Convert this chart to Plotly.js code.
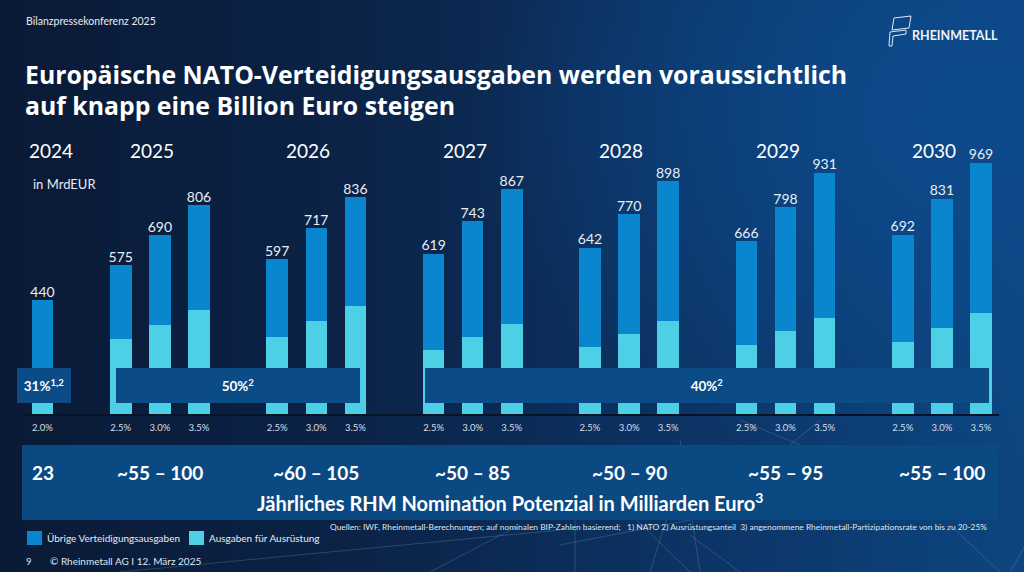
<!DOCTYPE html>
<html>
<head>
<meta charset="utf-8">
<script src="https://cdn.plot.ly/plotly-3.0.1.min.js"></script>
<style>
  html, body { margin: 0; padding: 0; width: 1024px; height: 572px; overflow: hidden; }
  body {
    background: radial-gradient(ellipse 70% 90% at 95% 20%, #0d4a8c 0%, rgba(13,74,140,0) 70%),
                linear-gradient(90deg, #0a1a36 0%, #0b2347 35%, #0c3567 70%, #0d4580 100%);
  }
  #chart { width: 1024px; height: 572px; }
</style>
</head>
<body>
<div id="chart"></div>
<script>
// ---------- data ----------
const years = ['2024', '2025', '2026', '2027', '2028', '2029', '2030'];
const rates = [
  ['2.0%'],
  ['2.5%', '3.0%', '3.5%'],
  ['2.5%', '3.0%', '3.5%'],
  ['2.5%', '3.0%', '3.5%'],
  ['2.5%', '3.0%', '3.5%'],
  ['2.5%', '3.0%', '3.5%'],
  ['2.5%', '3.0%', '3.5%']
];
const totals = [
  [440],
  [575, 690, 806],
  [597, 717, 836],
  [619, 743, 867],
  [642, 770, 898],
  [666, 798, 931],
  [692, 831, 969]
];
const equipment = [
  [136],
  [288, 345, 403],
  [299, 359, 418],
  [248, 297, 347],
  [257, 308, 359],
  [266, 319, 372],
  [277, 332, 388]
];
const otherSpending = [
  [304],
  [287, 345, 403],
  [298, 358, 418],
  [371, 446, 520],
  [385, 462, 539],
  [400, 479, 559],
  [415, 499, 581]
];
const shareLabels = ['31%<sup>1,2</sup>', '50%<sup>2</sup>', '40%<sup>2</sup>'];
const potential = ['23', '~55 – 100', '~60 – 105', '~50 – 85', '~50 – 90', '~55 – 95', '~55 – 100'];
const seriesNames = ['Übrige Verteidigungsausgaben', 'Ausgaben für Ausrüstung'];

// ---------- layout helpers ----------
const W = 1024, H = 572, ML = 23, MR = 25, MT = 140, MB = 158;
const PW = W - ML - MR, PH = H - MT - MB;
const px = x => (x - ML) / PW;
const py = y => (H - MB - y) / PH;
const FONT = 'Lato, "Open Sans", sans-serif';
const TFONT = '"Open Sans", Lato, sans-serif';
const C_DARK = '#0a86cf', C_LIGHT = '#4dcfe6', C_BOX = '#0b4c86';

// slot positions: 2024 alone, then groups of 3 separated by a gap slot
function slotOf(g, j) { return g === 0 ? 0 : 4 * (g - 1) + 2 + j; }
const xs = [], eq = [], ot = [], tot = [], tickText = [];
years.forEach((y, g) => {
  rates[g].forEach((r, j) => {
    xs.push(slotOf(g, j));
    eq.push(equipment[g][j]);
    ot.push(otherSpending[g][j]);
    tot.push(totals[g][j]);
    tickText.push(rates[g][j]);
  });
});
const mid = g => g === 0 ? 0 : slotOf(g, 1);

const traces = [
  { type: 'bar', x: xs, y: eq, name: seriesNames[1], marker: { color: C_LIGHT }, width: 0.55, hoverinfo: 'skip', showlegend: false },
  { type: 'bar', x: xs, y: ot, name: seriesNames[0], marker: { color: C_DARK }, width: 0.55, hoverinfo: 'skip', showlegend: false },
  { type: 'scatter', mode: 'text', x: xs, y: tot, text: tot.map(String), textposition: 'top center',
    textfont: { family: FONT, size: 14, color: '#e8eef5' }, showlegend: false, hoverinfo: 'skip', cliponaxis: false }
];

const annotations = [];
const shapes = [];

// faint decorative network lines
const netLines = [
  [[560, 445], [690, 572]], [[680, 440], [700, 572]], [[690, 445], [650, 572]], [[740, 420], [800, 445]],
  [[820, 420], [790, 445]], [[690, 520], [560, 545]], [[950, 525], [1000, 572]], [[575, 520], [575, 572]],
  [[430, 572], [520, 525]], [[1040, 520], [1010, 572]], [[690, 535], [740, 572]], [[120, 572], [560, 530]]
];
netLines.forEach(l => shapes.push({ type: 'line', xref: 'paper', yref: 'paper',
  x0: px(l[0][0]), y0: py(l[0][1]), x1: px(l[1][0]), y1: py(l[1][1]),
  line: { color: 'rgba(160,190,225,0.22)', width: 1 }, layer: 'below' }));

// header
annotations.push({ xref: 'paper', yref: 'paper', x: px(24), y: py(21), xanchor: 'left', yanchor: 'middle',
  text: 'Bilanzpressekonferenz 2025', showarrow: false, font: { family: FONT, size: 10.5, color: '#e6ecf3' } });
annotations.push({ xref: 'paper', yref: 'paper', x: px(23), y: py(74), xanchor: 'left', yanchor: 'middle',
  text: '<b>Europäische NATO-Verteidigungsausgaben werden voraussichtlich</b>', showarrow: false,
  font: { family: TFONT, size: 24.8, color: '#ffffff' } });
annotations.push({ xref: 'paper', yref: 'paper', x: px(23), y: py(105), xanchor: 'left', yanchor: 'middle',
  text: '<b>auf knapp eine Billion Euro steigen</b>', showarrow: false,
  font: { family: TFONT, size: 24.8, color: '#ffffff' } });
// logo
annotations.push({ xref: 'paper', yref: 'paper', x: px(910), y: py(35), xanchor: 'left', yanchor: 'middle',
  text: '<b>RHEINMETALL</b>', showarrow: false, font: { family: FONT, size: 12.5, color: '#eef3f8' } });
function pPath(pts) {
  return pts.map((p, i) => (i ? 'L ' : 'M ') + px(p[0]).toFixed(5) + ' ' + py(p[1]).toFixed(5)).join(' ') + ' Z';
}
shapes.push({ type: 'path', xref: 'paper', yref: 'paper', path: pPath([[892, 30], [894, 18], [911, 16], [909, 28]]),
  line: { color: '#dfe8f2', width: 1 } });
shapes.push({ type: 'path', xref: 'paper', yref: 'paper', path: pPath([[889, 46], [890, 32], [906, 30], [906, 34], [893, 36], [892, 46]]),
  line: { color: '#dfe8f2', width: 1 } });

// unit label
annotations.push({ xref: 'paper', yref: 'paper', x: px(31), y: py(184), xanchor: 'left', yanchor: 'middle',
  text: 'in MrdEUR', showarrow: false, font: { family: FONT, size: 13, color: '#e6ecf3' } });

// year labels
years.forEach((y, g) => {
  annotations.push({ xref: 'x', yref: 'paper', x: mid(g) + (g === 0 ? 0.22 : -0.2), y: py(150), yanchor: 'middle',
    text: y, showarrow: false, font: { family: FONT, size: 19, color: '#ffffff' } });
});

// share boxes (equipment share)
const boxSpecs = [
  { x: 0.04, w: 54, label: shareLabels[0] },
  { x: (slotOf(1, 0) + slotOf(2, 2)) / 2, w: 244, label: shareLabels[1] },
  { x: (slotOf(3, 0) + slotOf(6, 2)) / 2, w: 564, label: shareLabels[2] }
];
boxSpecs.forEach(b => {
  annotations.push({ xref: 'x', yref: 'paper', x: b.x, y: py(385.5), yanchor: 'middle', xanchor: 'center',
    width: b.w, height: 35, bgcolor: C_BOX, borderpad: 0, borderwidth: 0,
    text: '<b>' + b.label + '</b>', showarrow: false, font: { family: FONT, size: 13.5, color: '#ffffff' } });
});

// potential band
shapes.push({ type: 'rect', xref: 'paper', yref: 'paper', x0: px(22), x1: px(998), y0: py(520), y1: py(445),
  fillcolor: '#0b4983', line: { width: 0 }, layer: 'below' });
potential.forEach((t, g) => {
  annotations.push({ xref: 'x', yref: 'paper', x: mid(g), y: py(472), yanchor: 'middle',
    text: '<b>' + t + '</b>', showarrow: false, font: { family: FONT, size: 19, color: '#ffffff' } });
});
annotations.push({ xref: 'paper', yref: 'paper', x: px(510), y: py(502), xanchor: 'center', yanchor: 'middle',
  text: '<b>Jährliches RHM Nomination Potenzial in Milliarden Euro<sup>3</sup></b>', showarrow: false,
  font: { family: FONT, size: 20, color: '#ffffff' } });

// legend (drawn manually to match swatch size)
const legendItems = [
  { name: seriesNames[0], color: C_DARK, x: 27 },
  { name: seriesNames[1], color: C_LIGHT, x: 189 }
];
legendItems.forEach(it => {
  shapes.push({ type: 'rect', xref: 'paper', yref: 'paper', x0: px(it.x), x1: px(it.x + 15), y0: py(545), y1: py(531),
    fillcolor: it.color, line: { width: 0 } });
  annotations.push({ xref: 'paper', yref: 'paper', x: px(it.x + 18), y: py(538), xanchor: 'left', yanchor: 'middle',
    text: it.name, showarrow: false, font: { family: FONT, size: 10, color: '#e6ecf3' } });
});

// footnote + footer
annotations.push({ xref: 'paper', yref: 'paper', x: px(989), y: py(527), xanchor: 'right', yanchor: 'middle',
  text: 'Quellen: IWF, Rheinmetall-Berechnungen; auf nominalen BIP-Zahlen basierend;   1) NATO 2) Ausrüstungsanteil  3) angenommene Rheinmetall-Partizipationsrate von bis zu 20-25%',
  showarrow: false, font: { family: FONT, size: 8.4, color: '#dfe7f0' } });
annotations.push({ xref: 'paper', yref: 'paper', x: px(24), y: py(561), xanchor: 'left', yanchor: 'middle',
  text: '9', showarrow: false, font: { family: FONT, size: 9.5, color: '#dfe7f0' } });
annotations.push({ xref: 'paper', yref: 'paper', x: px(48), y: py(561), xanchor: 'left', yanchor: 'middle',
  text: '© Rheinmetall AG I 12. März 2025', showarrow: false, font: { family: FONT, size: 10, color: '#dfe7f0' } });

const layout = {
  width: W, height: H,
  margin: { l: ML, r: MR, t: MT, b: MB, pad: 0 },
  paper_bgcolor: 'rgba(0,0,0,0)', plot_bgcolor: 'rgba(0,0,0,0)',
  barmode: 'stack',
  showlegend: false,
  xaxis: { range: [-0.5, 24.46], tickvals: xs, ticktext: tickText, showgrid: false, zeroline: false,
    showline: true, linecolor: '#06142a', linewidth: 1.5, ticks: '', fixedrange: true, ticklabelstandoff: 4,
    tickfont: { family: FONT, size: 9.5, color: '#d5dfea' } },
  yaxis: { range: [0, 1057.5], showgrid: false, zeroline: false, showticklabels: false, showline: false, fixedrange: true },
  annotations: annotations,
  shapes: shapes,
  font: { family: FONT }
};

Plotly.newPlot('chart', traces, layout, { displayModeBar: false, staticPlot: true });
</script>
</body>
</html>
